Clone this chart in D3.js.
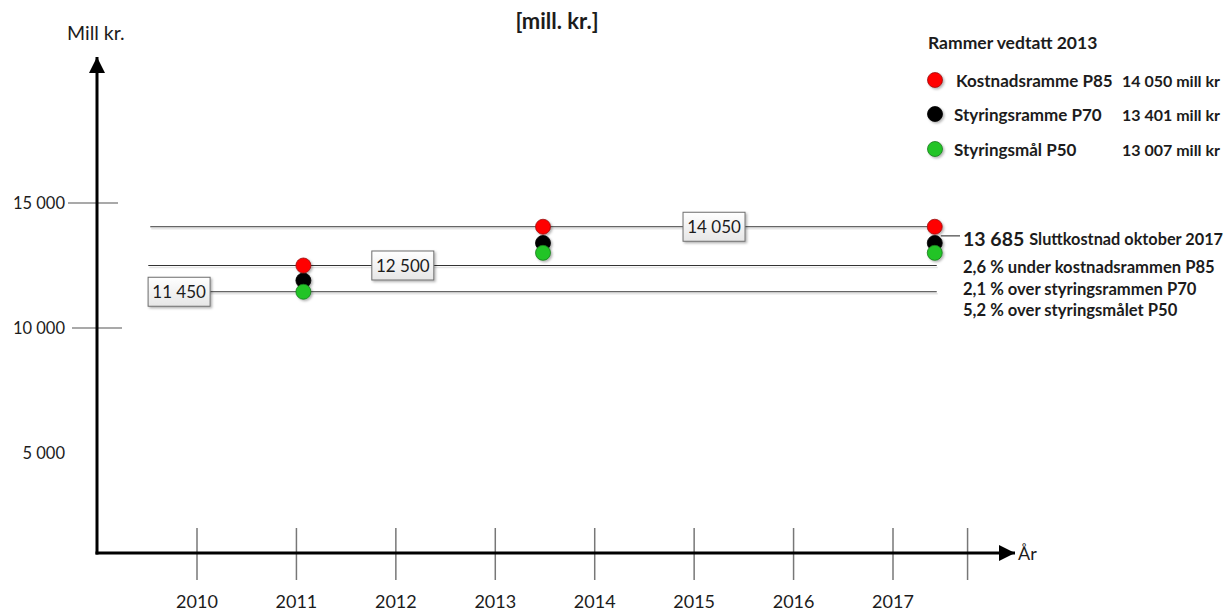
<!DOCTYPE html>
<html>
<head>
<meta charset="utf-8">
<script src="https://cdn.jsdelivr.net/npm/d3@7"></script>
<style>
  html, body { margin: 0; padding: 0; background: #fff; }
  svg { display: block; font-family: Lato, "Liberation Sans", sans-serif; }
</style>
</head>
<body>
<svg id="chart" width="1228" height="612"></svg>
<script>
// Years on the horizontal axis
const years = [2010, 2011, 2012, 2013, 2014, 2015, 2016, 2017];
// Extra unlabelled tick after the last year
const extraTick = [2017.75];

// Y axis tick values and labels
const yTickValues = [15000, 10000, 5000];
const yTickLabels = ["15 000", "10 000", "5 000"];
const yTickMarks = [15000, 10000];

// Time of each estimate (decimal year) and the three levels at that time
const estimateDates = [2011.07, 2013.48, 2017.42];
const p85 = [12500, 14050, 14050];
const p70 = [11900, 13401, 13401];
const p50 = [11450, 13007, 13007];

// Reference levels drawn as horizontal lines with value boxes
const refLevels = [14050, 12500, 11450];
const refLabels = ["14 050", "12 500", "11 450"];
const refLabelYears = [2015.2, 2012.07, 2009.82];

// Final cost
const finalCost = 13685;
const finalCostLabel = "13 685";

// Legend
const legendTitle = "Rammer vedtatt 2013";
const legendNames = ["Kostnadsramme P85", "Styringsramme P70", "Styringsmål P50"];
const legendValues = ["14 050 mill kr", "13 401 mill kr", "13 007 mill kr"];
const deviationNotes = [
  "2,6 % under kostnadsrammen P85",
  "2,1 % over styringsrammen P70",
  "5,2 % over styringsmålet P50"
];

const colors = {
  p85: "#ff0000", p85Edge: "#9a1010",
  p70: "#000000", p70Edge: "#000000",
  p50: "#22c428", p50Edge: "#1a7a1e",
  text: "#1c1c1c"
};

const svg = d3.select("#chart");

const x = d3.scaleLinear().domain([2010, 2017]).range([197, 893]);
const y = d3.scaleLinear().domain([10000, 15000]).range([328, 203]);

const axisX0 = 97, axisY0 = 553, axisTopY = 57, axisRightX = 1015;

// Filters and gradients
const defs = svg.append("defs");
const shadow = defs.append("filter").attr("id", "shadow")
  .attr("x", "-50%").attr("y", "-50%").attr("width", "200%").attr("height", "200%");
shadow.append("feDropShadow").attr("dx", 1.5).attr("dy", 1.5)
  .attr("stdDeviation", 1.2).attr("flood-color", "#000").attr("flood-opacity", 0.3);

const boxGrad = defs.append("linearGradient").attr("id", "boxGrad")
  .attr("x1", 0).attr("y1", 0).attr("x2", 0).attr("y2", 1);
boxGrad.append("stop").attr("offset", "0%").attr("stop-color", "#ffffff");
boxGrad.append("stop").attr("offset", "100%").attr("stop-color", "#e6e6e6");

defs.append("marker").attr("id", "arrow")
  .attr("viewBox", "0 0 10 10").attr("refX", 10).attr("refY", 5)
  .attr("markerUnits", "userSpaceOnUse")
  .attr("markerWidth", 20).attr("markerHeight", 16)
  .attr("orient", "auto")
  .append("path").attr("d", "M0,0 L10,5 L0,10 Z").attr("fill", "#000");

// Title
svg.append("text").attr("x", 557).attr("y", 20)
  .attr("text-anchor", "middle").attr("dominant-baseline", "central")
  .attr("font-size", 22).attr("font-weight", "bold").attr("fill", colors.text)
  .text("[mill. kr.]");

// Y axis label
svg.append("text").attr("x", 67).attr("y", 32)
  .attr("dominant-baseline", "central")
  .attr("font-size", 19.5).attr("fill", colors.text)
  .text("Mill kr.");

// Y tick marks (crossing the axis)
svg.append("g").selectAll("line").data(yTickMarks).join("line")
  .attr("x1", (d, i) => 68 + i * 4).attr("x2", (d, i) => 118 + i * 4)
  .attr("y1", d => y(d)).attr("y2", d => y(d))
  .attr("stroke", "#555").attr("stroke-width", 1.2);

// Y tick labels
svg.append("g").selectAll("text").data(yTickValues).join("text")
  .attr("x", 65).attr("y", d => y(d))
  .attr("text-anchor", "end").attr("dominant-baseline", "central")
  .attr("font-size", 16.5).attr("fill", colors.text)
  .text((d, i) => yTickLabels[i]);

// X tick marks
svg.append("g").selectAll("line").data(years.concat(extraTick)).join("line")
  .attr("x1", d => x(d)).attr("x2", d => x(d))
  .attr("y1", axisY0 - 25).attr("y2", axisY0 + 27)
  .attr("stroke", "#777").attr("stroke-width", 1.5);

// X tick labels
svg.append("g").selectAll("text").data(years).join("text")
  .attr("x", d => x(d)).attr("y", 601)
  .attr("text-anchor", "middle").attr("dominant-baseline", "central")
  .attr("font-size", 18).attr("fill", colors.text)
  .text(d => d);

// Axes with arrows
svg.append("line")
  .attr("x1", axisX0).attr("y1", axisY0 + 1.5).attr("x2", axisX0).attr("y2", axisTopY)
  .attr("stroke", "#000").attr("stroke-width", 3).attr("marker-end", "url(#arrow)");
svg.append("line")
  .attr("x1", axisX0 - 1.5).attr("y1", axisY0).attr("x2", axisRightX).attr("y2", axisY0)
  .attr("stroke", "#000").attr("stroke-width", 3).attr("marker-end", "url(#arrow)");
svg.append("text").attr("x", 1018).attr("y", axisY0)
  .attr("dominant-baseline", "central")
  .attr("font-size", 18).attr("fill", colors.text)
  .text("År");

// Horizontal reference lines, each with a faint shadow just below
const lineStart = [2009.53, 2009.51, 2009.51];
const lineEnd = [2017.48, 2017.44, 2017.44];
const refLines = svg.append("g").selectAll("g").data(refLevels).join("g");
refLines.append("line")
  .attr("x1", (d, i) => x(lineStart[i]) + 1).attr("x2", (d, i) => x(lineEnd[i]) + 1)
  .attr("y1", d => y(d) + 2).attr("y2", d => y(d) + 2)
  .attr("stroke", "#000").attr("stroke-opacity", 0.1).attr("stroke-width", 1.5);
refLines.append("line")
  .attr("x1", (d, i) => x(lineStart[i])).attr("x2", (d, i) => x(lineEnd[i]))
  .attr("y1", d => y(d)).attr("y2", d => y(d))
  .attr("stroke", "#333").attr("stroke-width", 1.1);

// Connector from the last estimate to the final cost label
svg.append("line")
  .attr("x1", x(estimateDates[2]) + 6).attr("x2", 960)
  .attr("y1", y(finalCost)).attr("y2", y(finalCost))
  .attr("stroke", "#333").attr("stroke-width", 1.1);

// Estimate dots: black first, then red and green on top
const dotR = 7.5;
const series = [
  { vals: p70, fill: colors.p70, edge: colors.p70Edge },
  { vals: p85, fill: colors.p85, edge: colors.p85Edge },
  { vals: p50, fill: colors.p50, edge: colors.p50Edge }
];
series.forEach(s => {
  svg.append("g").selectAll("circle").data(s.vals).join("circle")
    .attr("cx", (d, i) => x(estimateDates[i]))
    .attr("cy", d => y(d))
    .attr("r", dotR)
    .attr("fill", s.fill).attr("stroke", s.edge).attr("stroke-width", 0.8)
    .attr("filter", "url(#shadow)");
});

// Value boxes on the reference lines
const boxW = 62, boxH = 29;
const boxes = svg.append("g").selectAll("g").data(refLevels).join("g")
  .attr("transform", (d, i) => `translate(${x(refLabelYears[i])},${y(d)})`);
boxes.append("rect")
  .attr("x", -boxW / 2).attr("y", -boxH / 2).attr("width", boxW).attr("height", boxH)
  .attr("fill", "url(#boxGrad)").attr("stroke", "#6e6e6e").attr("stroke-width", 1)
  .attr("filter", "url(#shadow)");
boxes.append("text")
  .attr("text-anchor", "middle").attr("dominant-baseline", "central")
  .attr("font-size", 17).attr("fill", colors.text)
  .text((d, i) => refLabels[i]);

// Final cost annotation
const fc = svg.append("text").attr("x", 963).attr("y", y(finalCost) + 2)
  .attr("dominant-baseline", "central").attr("fill", colors.text)
  .attr("font-weight", "bold");
fc.append("tspan").attr("font-size", 19.5).text(finalCostLabel);
fc.append("tspan").attr("dx", 5).attr("font-size", 16.3).text("Sluttkostnad oktober 2017");

svg.append("g").selectAll("text").data(deviationNotes).join("text")
  .attr("x", 963).attr("y", (d, i) => 267 + i * 21.5)
  .attr("dominant-baseline", "central")
  .attr("font-size", 16.6).attr("font-weight", "bold").attr("fill", colors.text)
  .text(d => d);

// Legend
svg.append("text").attr("x", 928).attr("y", 42)
  .attr("dominant-baseline", "central")
  .attr("font-size", 17.5).attr("font-weight", "bold").attr("fill", colors.text)
  .text(legendTitle);
const legendFill = [colors.p85, colors.p70, colors.p50];
const legendEdge = [colors.p85Edge, colors.p70Edge, colors.p50Edge];
const legendRowY = [80, 114, 149];
const lg = svg.append("g").selectAll("g").data(legendNames).join("g")
  .attr("transform", (d, i) => `translate(0,${legendRowY[i]})`);
lg.append("circle").attr("cx", 935).attr("cy", 0).attr("r", dotR)
  .attr("fill", (d, i) => legendFill[i]).attr("stroke", (d, i) => legendEdge[i])
  .attr("stroke-width", 0.8).attr("filter", "url(#shadow)");
lg.append("text").attr("x", (d, i) => i === 0 ? 956 : 954).attr("y", 0)
  .attr("dominant-baseline", "central")
  .attr("font-size", 17).attr("font-weight", "bold").attr("fill", colors.text)
  .text(d => d);
lg.append("text").attr("x", 1220).attr("y", 0)
  .attr("text-anchor", "end").attr("dominant-baseline", "central")
  .attr("font-size", 16).attr("font-weight", "bold").attr("fill", colors.text)
  .text((d, i) => legendValues[i]);
</script>
</body>
</html>
